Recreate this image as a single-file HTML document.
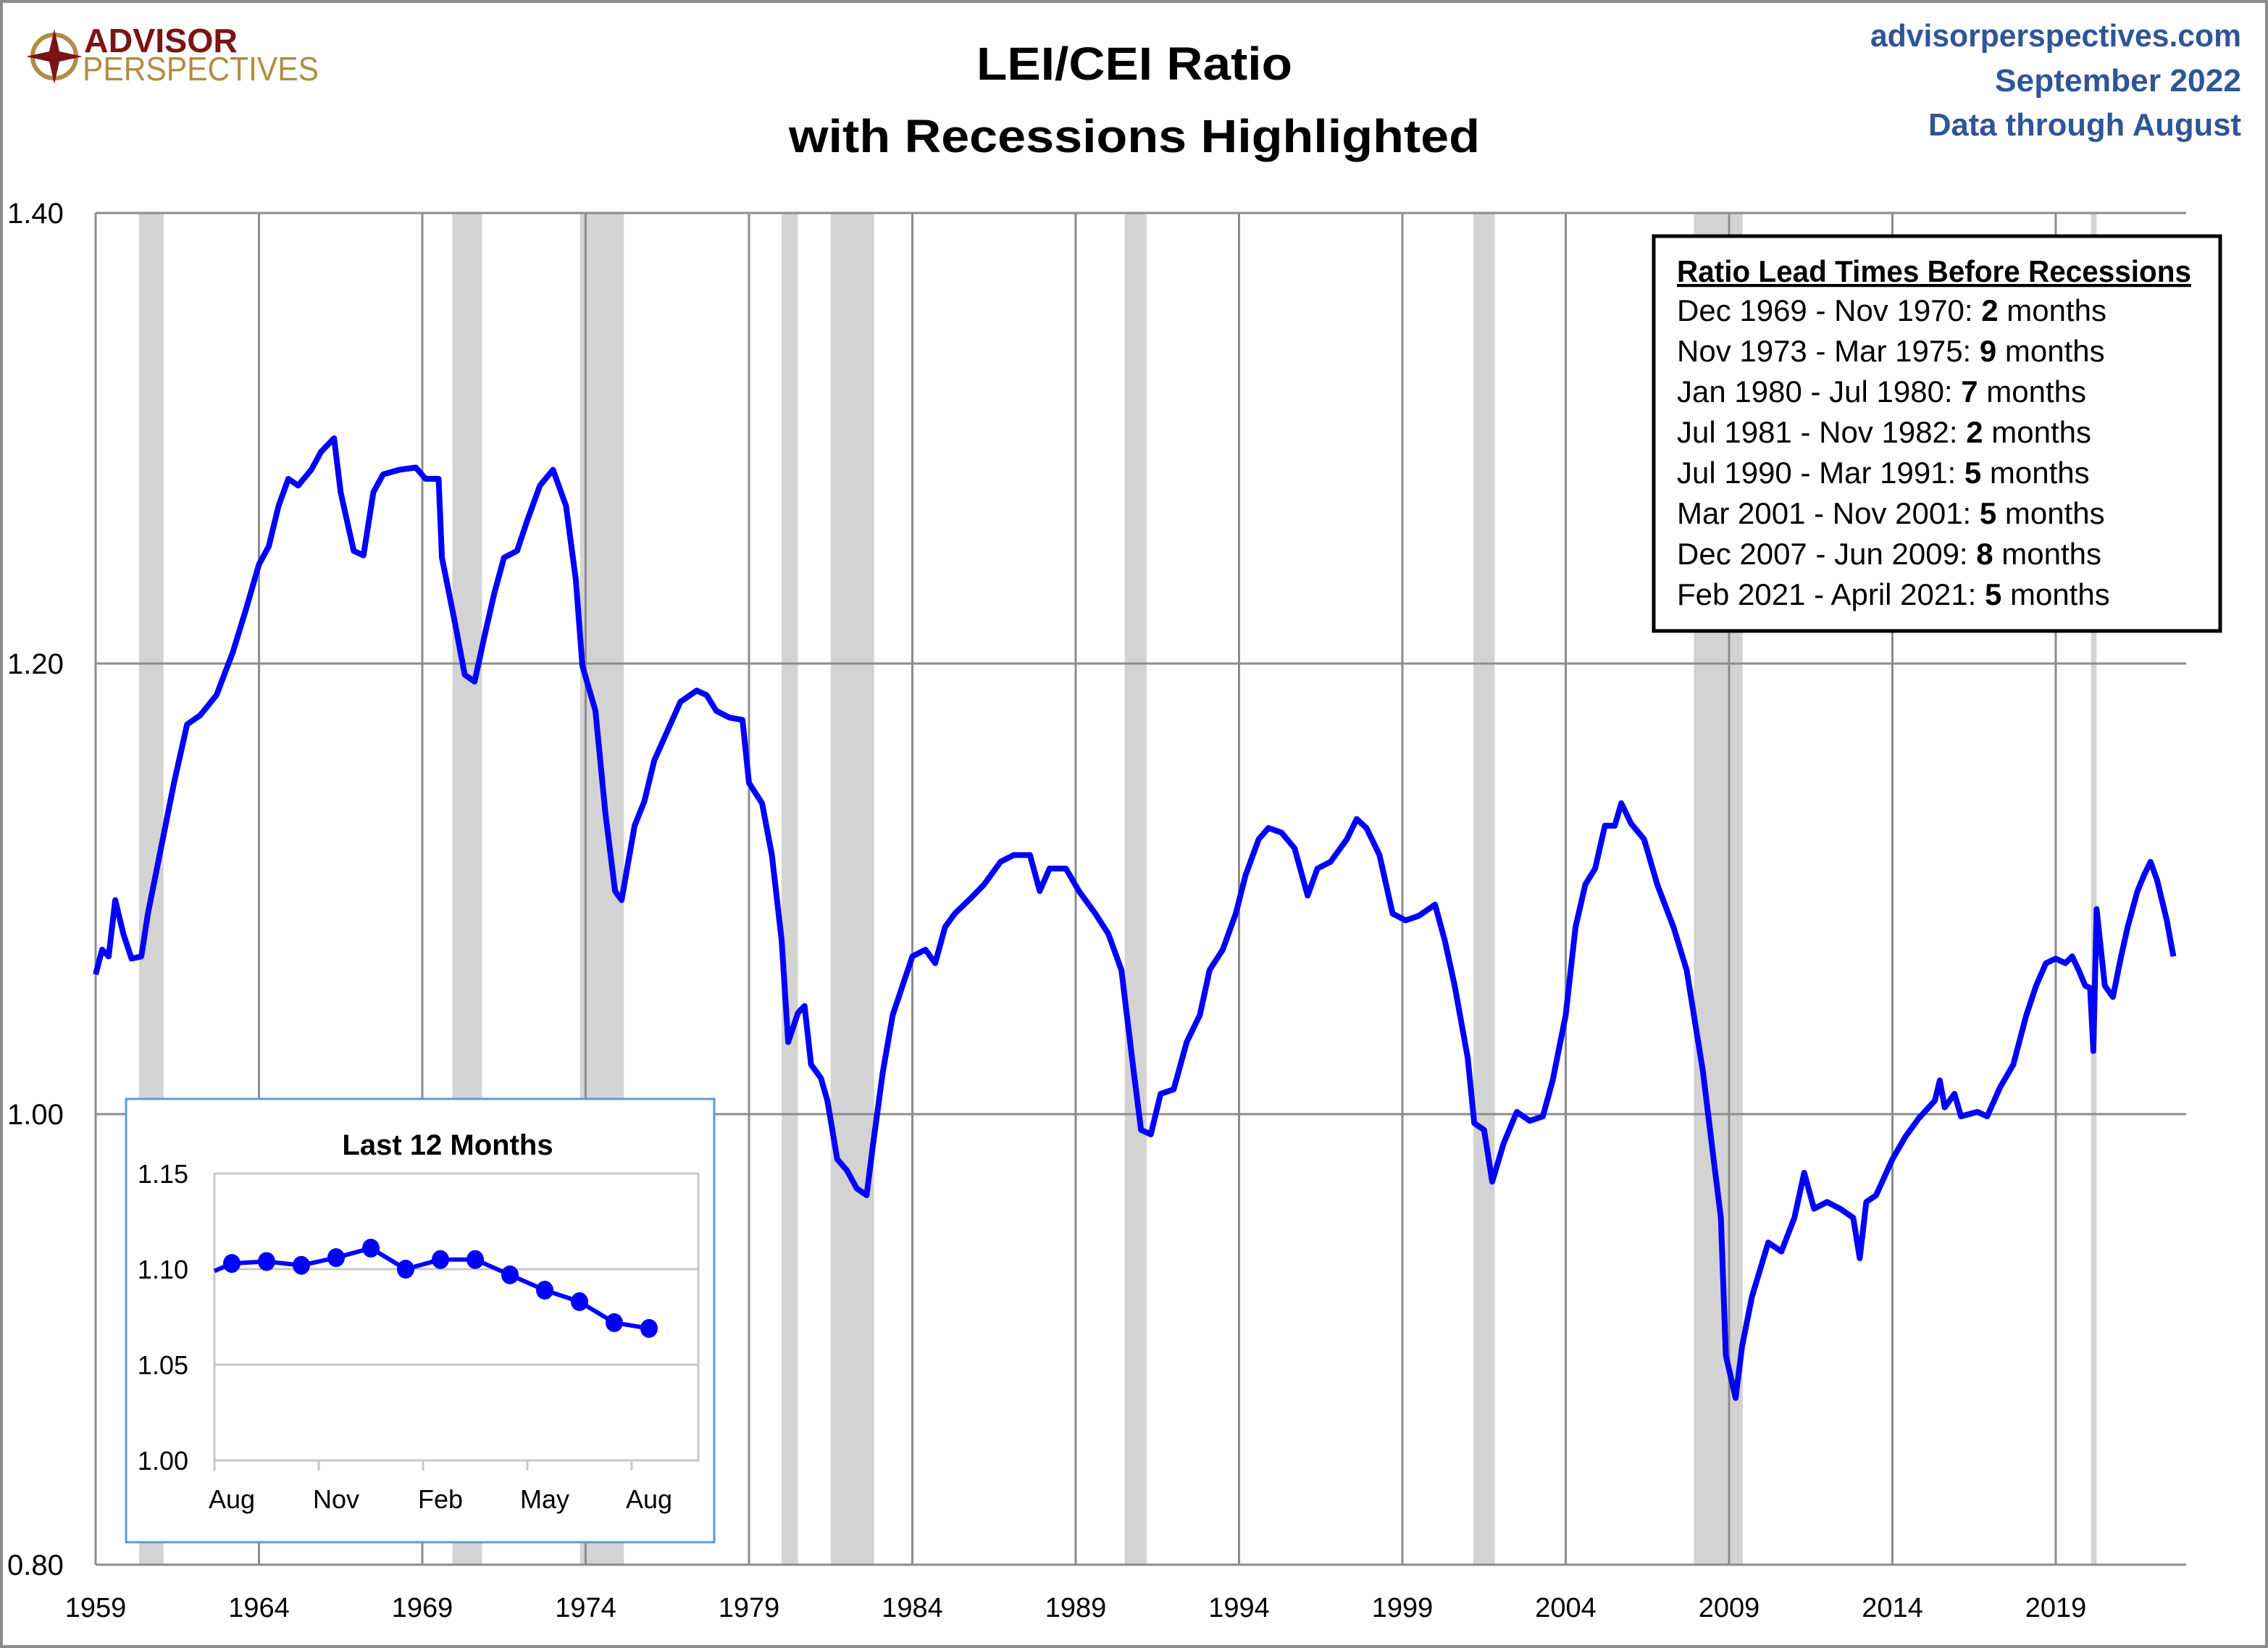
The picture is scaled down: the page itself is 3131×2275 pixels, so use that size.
<!DOCTYPE html>
<html><head><meta charset="utf-8"><style>
html,body{margin:0;padding:0;background:#fff}
svg{display:block}
text{font-family:"Liberation Sans",sans-serif}
</style></head><body>
<svg id="chart" width="3131" height="2275" viewBox="0 0 3131 2275" xmlns="http://www.w3.org/2000/svg">
<rect x="2" y="2" width="3127" height="2271" fill="#fff" stroke="#8c8c8c" stroke-width="4"/>
<g>
  <circle cx="75" cy="78" r="30" fill="none" stroke="#b08d43" stroke-width="6"/>
  <polygon points="75,40 82,71 114,78 82,85 75,116 68,85 36,78 68,71" fill="#7a1416"/>
  <text x="116" y="72" font-size="46" font-weight="bold" fill="#7a1416" textLength="212" lengthAdjust="spacingAndGlyphs">ADVISOR</text>
  <text x="114" y="111" font-size="46" fill="#b08d43" textLength="326" lengthAdjust="spacingAndGlyphs">PERSPECTIVES</text>
</g>
<text x="1566" y="110" font-size="64" font-weight="bold" text-anchor="middle" textLength="436" lengthAdjust="spacingAndGlyphs">LEI/CEI Ratio</text>
<text x="1566" y="210" font-size="64" font-weight="bold" text-anchor="middle" textLength="954" lengthAdjust="spacingAndGlyphs">with Recessions Highlighted</text>
<g fill="#2f5597" font-weight="bold" font-size="44" text-anchor="end">
  <text x="3094" y="64" textLength="512" lengthAdjust="spacingAndGlyphs">advisorperspectives.com</text>
  <text x="3094" y="126" textLength="340" lengthAdjust="spacingAndGlyphs">September 2022</text>
  <text x="3094" y="187" textLength="432" lengthAdjust="spacingAndGlyphs">Data through August</text>
</g>
<g id="main"></g>
<g id="legendbox">
  <rect x="2283" y="326" width="782" height="545" fill="#fff" stroke="#000" stroke-width="5"/>
  <text x="2315" y="389" font-size="42" font-weight="bold" text-decoration="underline" textLength="710" lengthAdjust="spacingAndGlyphs">Ratio Lead Times Before Recessions</text>
</g>
<g id="inset"></g>
</svg>
<script>
// Main series data
const years=[1959.0,1959.2,1959.4,1959.6,1959.85,1960.1,1960.4,1960.6,1961.0,1961.4,1961.8,1962.2,1962.7,1963.2,1963.6,1964.0,1964.3,1964.6,1964.9,1965.2,1965.6,1965.9,1966.3,1966.5,1966.9,1967.2,1967.5,1967.8,1968.3,1968.8,1969.1,1969.5,1969.6,1970.0,1970.3,1970.6,1970.9,1971.2,1971.5,1971.9,1972.2,1972.6,1973.0,1973.4,1973.7,1973.9,1974.3,1974.6,1974.9,1975.1,1975.5,1975.8,1976.1,1976.5,1976.9,1977.4,1977.7,1978.0,1978.4,1978.8,1979.0,1979.4,1979.7,1980.0,1980.2,1980.5,1980.7,1980.9,1981.2,1981.4,1981.7,1982.0,1982.3,1982.6,1982.8,1983.1,1983.4,1983.7,1984.0,1984.4,1984.7,1985.0,1985.3,1985.8,1986.2,1986.7,1987.1,1987.6,1987.9,1988.2,1988.7,1989.1,1989.6,1990.0,1990.4,1990.75,1991.0,1991.3,1991.6,1992.0,1992.4,1992.8,1993.1,1993.5,1993.9,1994.2,1994.6,1994.9,1995.3,1995.7,1996.1,1996.4,1996.8,1997.3,1997.6,1997.9,1998.3,1998.7,1999.1,1999.5,2000.0,2000.3,2000.6,2001.0,2001.2,2001.5,2001.75,2002.1,2002.5,2002.9,2003.3,2003.6,2004.0,2004.3,2004.6,2004.9,2005.2,2005.5,2005.7,2006.0,2006.4,2006.8,2007.3,2007.7,2008.2,2008.5,2008.75,2008.9,2009.2,2009.4,2009.7,2010.2,2010.6,2011.0,2011.3,2011.6,2012.0,2012.4,2012.8,2013.0,2013.2,2013.5,2014.0,2014.4,2014.8,2015.3,2015.45,2015.6,2015.9,2016.1,2016.6,2016.9,2017.3,2017.7,2018.1,2018.4,2018.7,2019.0,2019.3,2019.5,2019.7,2019.9,2020.05,2020.15,2020.25,2020.5,2020.75,2021.0,2021.2,2021.5,2021.7,2021.9,2022.1,2022.4,2022.6];
const values=[1.062,1.073,1.070,1.095,1.080,1.069,1.070,1.089,1.118,1.147,1.173,1.177,1.186,1.205,1.224,1.244,1.252,1.270,1.282,1.279,1.286,1.294,1.300,1.276,1.250,1.248,1.276,1.284,1.286,1.287,1.282,1.282,1.247,1.218,1.195,1.192,1.212,1.231,1.247,1.250,1.263,1.279,1.286,1.270,1.237,1.199,1.179,1.134,1.099,1.095,1.128,1.139,1.157,1.170,1.183,1.188,1.186,1.179,1.176,1.175,1.147,1.138,1.115,1.077,1.032,1.045,1.048,1.022,1.016,1.006,0.980,0.975,0.967,0.964,0.987,1.019,1.044,1.057,1.070,1.073,1.067,1.083,1.089,1.096,1.102,1.112,1.115,1.115,1.099,1.109,1.109,1.099,1.089,1.080,1.064,1.022,0.993,0.991,1.009,1.011,1.032,1.044,1.064,1.073,1.089,1.106,1.122,1.127,1.125,1.118,1.097,1.109,1.112,1.122,1.131,1.127,1.115,1.089,1.086,1.088,1.093,1.077,1.057,1.025,0.996,0.993,0.970,0.987,1.001,0.997,0.999,1.015,1.044,1.083,1.102,1.109,1.128,1.128,1.138,1.129,1.122,1.102,1.083,1.064,1.019,0.983,0.954,0.893,0.874,0.897,0.919,0.943,0.939,0.954,0.974,0.958,0.961,0.958,0.954,0.936,0.961,0.964,0.980,0.990,0.998,1.006,1.015,1.003,1.009,0.999,1.001,0.999,1.012,1.022,1.044,1.057,1.067,1.069,1.067,1.070,1.064,1.057,1.056,1.028,1.091,1.057,1.052,1.070,1.083,1.099,1.106,1.112,1.104,1.086,1.070];
const recStart=[1960.33,1969.92,1973.83,1980.0,1981.5,1990.5,2001.17,2007.92,2020.08];
const recEnd=[1961.08,1970.83,1975.17,1980.5,1982.83,1991.17,2001.83,2009.42,2020.25];
const xTicks=[1959,1964,1969,1974,1979,1984,1989,1994,1999,2004,2009,2014,2019];
const yTicks=[0.80,1.00,1.20,1.40];
const leadLabels=["Dec 1969 - Nov 1970: ","Nov 1973 - Mar 1975: ","Jan 1980 - Jul 1980: ","Jul 1981 - Nov 1982: ","Jul 1990 - Mar 1991: ","Mar 2001 - Nov 2001: ","Dec 2007 - Jun 2009: ","Feb 2021 - April 2021: "];
const leadMonths=["2","9","7","2","5","5","8","5"];
// Inset data
const insetPrev=1.095;
const insetMonths=["Aug","Sep","Oct","Nov","Dec","Jan","Feb","Mar","Apr","May","Jun","Jul","Aug"];
const insetValues=[1.103,1.104,1.102,1.106,1.111,1.100,1.105,1.105,1.097,1.089,1.083,1.072,1.069];
const insetYTicks=[1.00,1.05,1.10,1.15];

const NS="http://www.w3.org/2000/svg";
function mk(tag,attrs,parent){const e=document.createElementNS(NS,tag);for(const k in attrs)e.setAttribute(k,attrs[k]);parent.appendChild(e);return e;}
const L=132,R=3018,T=294,B=2160;
const xS=y=>L+(y-1959)*45.1;
const yS=v=>B-(v-0.8)/0.6*(B-T);
const main=document.getElementById('main');
for(let i=0;i<recStart.length;i++){
  const r=mk('rect',{x:xS(recStart[i]),y:T,width:xS(recEnd[i])-xS(recStart[i]),height:B-T,fill:'#d3d3d3'},main);
  
  
}
xTicks.forEach(t=>{
  const l=mk('line',{x1:xS(t),x2:xS(t),y1:T,y2:B,stroke:'#8c8c8c','stroke-width':3},main);
  
  
  const tx=mk('text',{x:xS(t),y:2232,'font-size':38,'text-anchor':'middle'},main);
  tx.textContent=t;
  
  
});
yTicks.forEach(t=>{
  const l=mk('line',{x1:L,x2:R,y1:yS(t),y2:yS(t),stroke:'#8c8c8c','stroke-width':3},main);
  
  
  const tx=mk('text',{x:10,y:yS(t)+14,'font-size':40},main);
  tx.textContent=t.toFixed(2);
  
  
});
const ax=mk('line',{x1:L,x2:L,y1:T,y2:B,stroke:'#8c8c8c','stroke-width':3},main);


let d='';
years.forEach((y,i)=>{d+=(i?'L':'M')+xS(y).toFixed(1)+','+yS(values[i]).toFixed(1);});
const p=mk('path',{d:d,fill:'none',stroke:'#0000ff','stroke-width':8,'stroke-linejoin':'round'},main);



const lb=document.getElementById('legendbox');
leadLabels.forEach((s,i)=>{
  const t=mk('text',{x:2315,y:443+i*56,'font-size':42},lb);
  
  
  const a=mk('tspan',{},t);a.textContent=s;
  const b=mk('tspan',{'font-weight':'bold'},t);b.textContent=leadMonths[i];
  const c=mk('tspan',{},t);c.textContent=' months';
});

const ins=document.getElementById('inset');
const ib=mk('rect',{x:174,y:1517,width:812,height:612,fill:'#fff',stroke:'#5b9bd5','stroke-width':3},ins);


const it=mk('text',{x:618,y:1594,'font-size':40,'font-weight':'bold','text-anchor':'middle'},ins);
it.textContent='Last 12 Months';


const iL=296,iR=964,iT=1620,iB=2016,cw=48;
const iy=v=>iB-(v-1.0)/0.15*(iB-iT);
const ix=i=>iL+(i+0.5)*cw;
insetYTicks.forEach(t=>{
  const l=mk('line',{x1:iL,x2:iR,y1:iy(t),y2:iy(t),stroke:'#c8c8c8','stroke-width':3},ins);
  
  
  const tx=mk('text',{x:260,y:iy(t)+13,'font-size':36,'text-anchor':'end'},ins);
  tx.textContent=t.toFixed(2);
  
  
});
const ifr=mk('rect',{x:iL,y:iT,width:iR-iL,height:iB-iT,fill:'none',stroke:'#c8c8c8','stroke-width':3},ins);


insetMonths.forEach((m,i)=>{
  if(i%3===0){
    const tk=mk('line',{x1:iL+i*cw,x2:iL+i*cw,y1:iB,y2:iB+14,stroke:'#c8c8c8','stroke-width':3},ins);
    
    
    const tx=mk('text',{x:ix(i),y:2082,'font-size':36,'text-anchor':'middle'},ins);
    tx.textContent=m;
    
    
  }
});
const v0=insetPrev+(insetValues[0]-insetPrev)*0.5;
let id='M'+iL+','+iy(v0).toFixed(1);
insetValues.forEach((v,i)=>{id+='L'+ix(i)+','+iy(v).toFixed(1);});
const ip=mk('path',{d:id,fill:'none',stroke:'#0000ff','stroke-width':6},ins);


insetValues.forEach((v,i)=>{
  const c=mk('ellipse',{cx:ix(i),cy:iy(v),rx:12,ry:13,fill:'#0000ff'},ins);
  
  
});
</script>
</body></html>
